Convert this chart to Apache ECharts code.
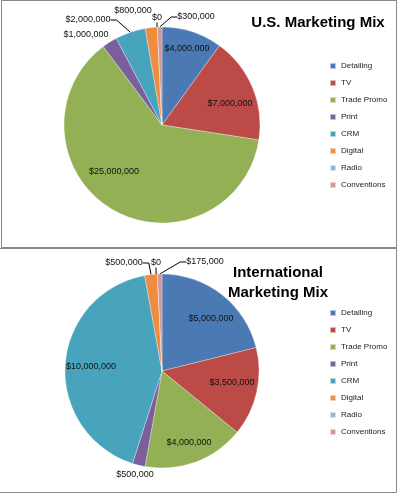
<!DOCTYPE html>
<html>
<head>
<meta charset="utf-8">
<script src="https://cdn.jsdelivr.net/npm/echarts@6/dist/echarts.min.js"></script>
<style>
  html, body { margin: 0; padding: 0; background: #fff; }
  #main { width: 398px; height: 503px; }
</style>
</head>
<body>
<div id="main"></div>
<script>
// chart values
var categories = ['Detailing', 'TV', 'Trade Promo', 'Print', 'CRM', 'Digital', 'Radio', 'Conventions'];
var usValues = [4000000, 7000000, 25000000, 1000000, 2000000, 800000, 0, 300000];
var intlValues = [5000000, 3500000, 4000000, 500000, 10000000, 500000, 0, 175000];
var colors = ['#4A79B3', '#BC4B48', '#93B054', '#7A5F9C', '#47A4BC', '#EE8C40', '#98B1D5', '#D89593'];

// where Excel put each data label (label centre), and which ones sit outside
var usLabelPos = [[187, 49], [230, 104], [114, 172], [86, 35], [88, 20], [133, 11], [157, 18], [196, 17]];
var intlLabelPos = [[211, 319], [232, 383], [189, 443], [135, 475], [91, 367], [124, 263], [156, 263], [205, 262]];
var usOutside = [false, false, false, true, true, true, true, true];
var intlOutside = [false, false, false, true, false, true, true, true];
var usLine = [false, false, false, false, true, false, true, true];
var intlLine = [false, false, false, false, false, true, true, true];

function money(v) {
    return '$' + v.toLocaleString('en-US');
}

function buildData(values, outside, line) {
    return values.map(function (v, i) {
        return {
            name: categories[i],
            value: v,
            label: { position: outside[i] ? 'outside' : 'inside' },
            labelLine: { show: line[i] }
        };
    });
}

function pieSeries(values, outside, line, center, radius, pos) {
    return {
        type: 'pie',
        center: center,
        radius: radius,
        startAngle: 90,
        clockwise: true,
        animation: false,
        avoidLabelOverlap: false,
        itemStyle: { borderColor: 'rgba(255,255,255,0.6)', borderWidth: 0.5 },
        label: {
            show: true,
            formatter: function (p) { return money(p.value); },
            color: '#111',
            fontSize: 9,
            fontFamily: 'Liberation Sans, Arial, sans-serif'
        },
        labelLine: {
            show: true,
            length: 6,
            length2: 6,
            lineStyle: { color: '#000', width: 1 }
        },
        labelLayout: function (p) {
            var xy = pos[p.dataIndex];
            return { x: xy[0], y: xy[1], align: 'center', verticalAlign: 'middle' };
        },
        emphasis: { disabled: true },
        data: buildData(values, outside, line)
    };
}

function legendAt(top) {
    return {
        orient: 'vertical',
        left: 329,
        top: top,
        padding: 0,
        itemWidth: 6,
        itemHeight: 6,
        itemGap: 7,
        icon: 'rect',
        selectedMode: false,
        data: categories,
        textStyle: {
            fontSize: 8,
            lineHeight: 10,
            color: '#222',
            fontFamily: 'Liberation Sans, Arial, sans-serif'
        }
    };
}

var myChart = echarts.init(document.getElementById('main'));
myChart.setOption({
    backgroundColor: '#fff',
    color: colors,
    title: [
        {
            text: 'U.S. Marketing Mix',
            left: 313,
            top: 10,
            textAlign: 'center',
            textStyle: { fontSize: 15, fontWeight: 'bold', color: '#000', fontFamily: 'Liberation Sans, Arial, sans-serif' }
        },
        {
            text: 'International\nMarketing Mix',
            left: 273,
            top: 258,
            textAlign: 'center',
            textStyle: { fontSize: 15, lineHeight: 20, fontWeight: 'bold', color: '#000', fontFamily: 'Liberation Sans, Arial, sans-serif' }
        }
    ],
    legend: [legendAt(61), legendAt(308)],
    graphic: [
        {
            type: 'rect',
            shape: { x: 1.5, y: 0.5, width: 395, height: 247 },
            style: { fill: null, stroke: '#888', lineWidth: 1 },
            silent: true,
            z: -1
        },
        {
            type: 'rect',
            shape: { x: -2, y: 248.5, width: 398.5, height: 244 },
            style: { fill: null, stroke: '#888', lineWidth: 1 },
            silent: true,
            z: -1
        }
    ],
    series: [
        pieSeries(usValues, usOutside, usLine, [162, 125], 98, usLabelPos),
        pieSeries(intlValues, intlOutside, intlLine, [162, 371], 97, intlLabelPos)
    ]
});
</script>
</body>
</html>
